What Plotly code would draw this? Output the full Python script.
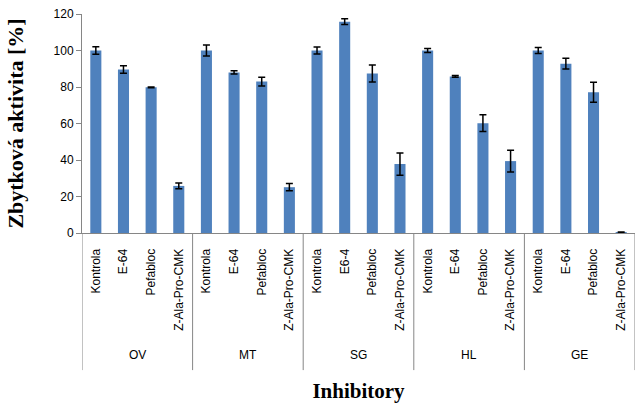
import plotly.graph_objects as go

groups = ["OV", "MT", "SG", "HL", "GE"]
inhibitors = {
    "OV": ["Kontrola", "E-64", "Pefabloc", "Z-Ala-Pro-CMK"],
    "MT": ["Kontrola", "E-64", "Pefabloc", "Z-Ala-Pro-CMK"],
    "SG": ["Kontrola", "E6-4", "Pefabloc", "Z-Ala-Pro-CMK"],
    "HL": ["Kontrola", "E-64", "Pefabloc", "Z-Ala-Pro-CMK"],
    "GE": ["Kontrola", "E-64", "Pefabloc", "Z-Ala-Pro-CMK"],
}
values = {
    "OV": [100, 89.6, 79.8, 25.8],
    "MT": [100, 88.0, 83.0, 25.1],
    "SG": [100, 115.8, 87.4, 37.8],
    "HL": [100, 85.8, 60.2, 39.4],
    "GE": [100, 92.8, 77.1, 0.4],
}
errors = {
    "OV": [2.0, 2.0, 0.2, 1.6],
    "MT": [3.0, 0.9, 2.4, 2.0],
    "SG": [1.9, 1.6, 4.6, 6.1],
    "HL": [1.1, 0.5, 4.6, 6.0],
    "GE": [1.6, 3.0, 5.5, 0.2],
}

keys, labels, y, e = [], [], [], []
for g in groups:
    for name, v, er in zip(inhibitors[g], values[g], errors[g]):
        keys.append(f"{g}|{name}")
        labels.append(name)
        y.append(v)
        e.append(er)

fig = go.Figure(go.Bar(
    x=keys, y=y,
    marker=dict(color="#4F81BD", line=dict(width=0)),
    error_y=dict(type="data", array=e, visible=True, color="black", thickness=1.5, width=3.5),
))

AX = "#868686"
n_per = 4
div_bottom = -0.626
shapes = []
for i in range(len(groups) + 1):
    xpos = i * n_per - 0.5
    shapes.append(dict(type="line", xref="x", yref="paper", x0=xpos, x1=xpos,
                       y0=0, y1=div_bottom, line=dict(color=AX, width=1)))
annotations = []
for i, g in enumerate(groups):
    annotations.append(dict(text=g, xref="x", yref="paper", x=i * n_per + (n_per - 1) / 2,
                            y=-0.557, showarrow=False, yanchor="middle",
                            font=dict(family="Liberation Sans", size=12, color="black")))

fig.update_layout(
    width=643, height=411,
    margin=dict(l=82, r=8, t=14, b=178),
    paper_bgcolor="white", plot_bgcolor="white",
    showlegend=False,
    bargap=0.6,
    font=dict(family="Liberation Sans", size=12, color="black"),
    shapes=shapes, annotations=annotations,
)
fig.update_xaxes(
    type="category", categoryorder="array", categoryarray=keys,
    tickmode="array", tickvals=keys, ticktext=labels,
    tickangle=-90, range=[-0.5, len(keys) - 0.5],
    showline=True, linecolor=AX, linewidth=1,
    ticks="outside", ticklen=10, tickcolor="rgba(0,0,0,0)", showgrid=False,
    tickfont=dict(family="Liberation Sans", size=12),
    automargin=False,
    title=dict(text="<b>Inhibitory</b>", font=dict(family="Liberation Serif", size=21), standoff=53),
)
fig.update_yaxes(
    range=[0, 120], dtick=20, showgrid=False, zeroline=False,
    showline=True, linecolor=AX, linewidth=1,
    ticks="outside", ticklen=5, tickcolor=AX,
    tickfont=dict(family="Liberation Sans", size=12),
    automargin=False,
    title=dict(text="<b>Zbytková aktivita [%]</b>", font=dict(family="Liberation Serif", size=22), standoff=23),
)

fig.write_html("out.html", config={"displayModeBar": False},
               post_script="document.body.style.margin='0';document.body.style.overflow='hidden';")
